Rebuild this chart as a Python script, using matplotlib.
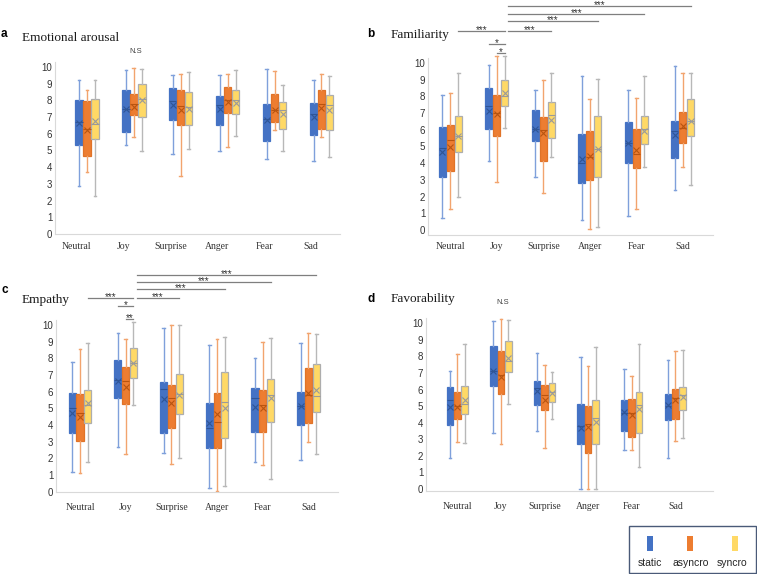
# ライブラリ読み込み.
import numpy as np
import matplotlib.pyplot as plt
from matplotlib.patches import Rectangle

# カテゴリ定義.
emotions = ["Neutral", "Joy", "Surprise", "Anger", "Fear", "Sad"]
groups = ["static", "asyncro", "syncro"]

# 各箱の値: (下ひげ, Q1, 中央値, Q3, 上ひげ, 平均).
arousal_static = [(2.9, 5.3, 6.7, 8.05, 9.2, 6.65), (5.3, 6.1, 7.5, 8.6, 9.8, 7.5),
                  (4.8, 6.8, 7.95, 8.75, 9.55, 7.75), (4.95, 6.5, 7.7, 8.25, 9.5, 7.5),
                  (4.5, 5.55, 6.9, 7.8, 9.9, 6.8), (4.4, 5.95, 7.2, 7.85, 9.25, 7.0)]
arousal_async = [(3.7, 4.7, 6.3, 7.95, 8.6, 6.2), (5.8, 7.15, 7.8, 8.4, 9.95, 7.6),
                 (3.45, 6.5, 7.65, 8.6, 9.6, 7.4), (5.2, 7.25, 8.05, 8.8, 9.6, 7.9),
                 (6.2, 6.7, 7.4, 8.4, 9.75, 7.4), (5.8, 6.3, 7.8, 8.6, 9.6, 7.55)]
arousal_sync = [(2.3, 5.7, 6.6, 8.1, 9.25, 6.75), (4.95, 7.0, 8.1, 9.0, 9.9, 8.0),
                (5.1, 6.5, 7.6, 8.5, 9.7, 7.5), (5.85, 7.2, 8.0, 8.6, 9.8, 7.85),
                (4.95, 6.3, 7.45, 7.9, 8.9, 7.2), (4.6, 6.25, 7.75, 8.35, 9.45, 7.4)]

familiar_static = [(0.7, 3.2, 4.9, 6.15, 8.1, 4.65), (4.15, 6.05, 7.4, 8.5, 9.9, 7.15),
                   (3.2, 5.3, 6.05, 7.2, 8.4, 6.05), (0.6, 2.8, 4.0, 5.75, 9.2, 4.25),
                   (0.85, 4.0, 5.2, 6.45, 8.4, 5.2), (2.4, 4.3, 5.9, 6.5, 9.8, 5.7)]
familiar_async = [(1.25, 3.55, 5.4, 6.3, 8.2, 5.0), (2.9, 5.65, 7.0, 8.1, 10.4, 6.95),
                  (2.2, 4.15, 6.0, 6.75, 9.0, 5.8), (0.05, 3.0, 4.4, 5.95, 7.85, 4.45),
                  (1.25, 3.7, 4.55, 6.05, 7.9, 4.8), (3.75, 5.2, 6.1, 7.05, 9.4, 6.2)]
familiar_sync = [(2.0, 4.65, 5.65, 6.8, 9.4, 5.6), (6.1, 7.45, 8.0, 9.0, 10.4, 8.2),
                 (4.4, 5.5, 6.9, 7.65, 9.4, 6.6), (0.2, 3.2, 4.85, 6.85, 9.05, 4.85),
                 (3.8, 5.15, 6.05, 6.8, 9.25, 5.95), (2.7, 5.65, 6.5, 7.85, 9.4, 6.5)]

empathy_static = [(1.2, 3.5, 5.05, 5.95, 7.8, 4.7), (2.7, 5.6, 6.7, 7.9, 9.55, 6.65),
                  (2.3, 3.5, 6.15, 6.6, 9.85, 5.55), (0.25, 2.6, 3.8, 5.3, 8.8, 4.1),
                  (1.8, 3.6, 5.6, 6.2, 8.05, 5.1), (1.9, 4.0, 5.15, 6.0, 8.95, 5.15)]
empathy_async = [(1.1, 3.05, 4.7, 5.85, 8.55, 4.5), (2.25, 5.25, 6.65, 7.5, 9.15, 6.3),
                 (1.65, 3.8, 5.6, 6.4, 10.0, 5.35), (0.05, 2.6, 4.2, 5.9, 9.15, 4.65),
                 (1.6, 3.6, 5.2, 6.1, 9.0, 5.0), (3.0, 4.15, 5.8, 7.45, 9.5, 5.95)]
empathy_sync = [(1.8, 4.15, 5.2, 6.1, 8.95, 5.3), (5.2, 6.8, 7.7, 8.6, 10.2, 7.7),
                (2.0, 4.65, 5.85, 7.05, 10.0, 5.8), (0.35, 3.25, 5.4, 7.2, 9.3, 5.05),
                (0.75, 4.2, 5.8, 6.75, 9.25, 5.6), (2.25, 4.8, 5.75, 7.65, 9.45, 6.1)]

favor_static = [(1.9, 3.85, 5.35, 6.15, 7.15, 4.95), (3.35, 6.2, 7.1, 8.6, 10.15, 7.15),
                (3.5, 5.05, 6.1, 6.5, 8.2, 5.9), (0.0, 2.7, 3.8, 5.1, 7.95, 3.7),
                (2.35, 3.5, 4.6, 5.4, 7.25, 4.65), (1.9, 4.15, 5.0, 5.75, 7.8, 5.05)]
favor_async = [(2.85, 4.25, 5.0, 5.85, 8.15, 4.95), (2.7, 5.75, 6.9, 8.3, 10.25, 6.75),
               (2.5, 4.75, 5.65, 6.3, 7.5, 5.4), (0.0, 2.15, 3.9, 5.0, 7.4, 3.75),
               (2.35, 3.15, 4.6, 5.45, 6.8, 4.45), (2.9, 4.25, 5.5, 6.05, 8.3, 5.35)]
favor_sync = [(2.75, 4.55, 5.1, 6.2, 8.75, 5.4), (5.1, 7.05, 7.7, 8.95, 10.2, 7.9),
              (4.25, 5.25, 5.85, 6.4, 7.05, 5.8), (0.0, 2.7, 4.3, 5.4, 8.55, 4.05),
              (1.3, 3.4, 5.05, 5.85, 8.75, 4.85), (3.05, 4.75, 5.65, 6.15, 8.4, 5.55)]

# 有意差の比較: (カテゴリ1, 群1, カテゴリ2, 群2, ラベル). 群 -1 は Joy syncro の右端から.
familiar_sig = [(1, -1, 5, 2, "***"), (1, -1, 4, 2, "***"), (1, -1, 3, 2, "***"),
                (1, -1, 2, 2, "***"), (0, 2, 1, 2, "***"), (1, 0, 1, 2, "*"), (1, 1, 1, 2, "*")]
empathy_sig = [(1, -1, 5, 2, "***"), (1, -1, 4, 2, "***"), (1, -1, 3, 2, "***"),
               (1, -1, 2, 2, "***"), (0, 2, 1, 2, "***"), (1, 0, 1, 2, "*"), (1, 1, 1, 2, "**")]

W, H = 757, 574
fig = plt.figure(figsize=(W / 100, H / 100), dpi=100)

face = ["#4472C4", "#ED7D31", "#FFD966"]
edge = ["#4472C4", "#E07328", "#ADADAD"]
whis = ["#7FA0DB", "#F2A46E", "#B8B8B8"]
medc = ["#2F5597", "#B85410", "#9A9A9A"]
serif = ["Liberation Serif", "DejaVu Serif"]
sans = ["Liberation Sans", "DejaVu Sans"]
step = 0.17
bw = 0.155


def fx(x):
    return x / W


def fy(y):
    return 1 - y / H


def panel(data, L, R, y0, sc, c0, sp, ymin, pad, loff):
    # ピクセル座標から軸を作成.
    top = 10.3
    bpx = y0 - ymin * sc
    tpx = y0 - top * sc
    ax = fig.add_axes([fx(L), fy(bpx), (R - L) / W, (bpx - tpx) / H])
    ax.set_xlim((L - c0) / sp, (R - c0) / sp)
    ax.set_ylim(ymin, top)
    for g in range(3):
        stats = []
        for lo, q1, med, q3, hi, mean in data[g]:
            stats.append(dict(whislo=lo, q1=q1, med=med, q3=q3, whishi=hi, mean=mean, fliers=[]))
        pos = np.arange(len(emotions)) + (g - 1) * step
        art = ax.bxp(stats, positions=pos, widths=bw, patch_artist=True, showmeans=True,
                     showfliers=False, capwidths=0.06, manage_ticks=False,
                     boxprops=dict(facecolor=face[g], edgecolor=edge[g], linewidth=0.9),
                     whiskerprops=dict(color=whis[g], linewidth=1.0),
                     capprops=dict(color=whis[g], linewidth=1.0),
                     medianprops=dict(color=medc[g], linewidth=0.8),
                     meanprops=dict(marker="x", markeredgecolor=medc[g], markersize=4,
                                    markeredgewidth=0.8))
        for k in art:
            for a in art[k]:
                a.set_clip_on(False)
    for s in ["top", "right"]:
        ax.spines[s].set_visible(False)
    for s in ["left", "bottom"]:
        ax.spines[s].set_color("#D9D9D9")
        ax.spines[s].set_linewidth(0.8)
    ax.set_yticks(range(11))
    ax.set_yticklabels([str(v) for v in range(11)], fontsize=7, family=sans, color="#333333")
    ax.set_xticks(np.arange(len(emotions)) + loff)
    ax.set_xticklabels(emotions, fontsize=7, family=serif, color="#333333")
    ax.tick_params(axis="both", length=0)
    ax.tick_params(axis="y", pad=2)
    ax.tick_params(axis="x", pad=pad)
    ax.patch.set_alpha(0)
    return ax


def sig(ax, comps, y0, sc, ys):
    # 有意差の線と記号.
    for (c1, g1, c2, g2, lab), ypx in zip(comps, ys):
        if g1 < 0:
            x1 = c1 + step + bw / 2
        else:
            x1 = c1 + (g1 - 1) * step
        x2 = c2 + (g2 - 1) * step
        yv = (y0 - ypx) / sc
        ax.plot([x1, x2], [yv, yv], color="#7F7F7F", lw=0.9, clip_on=False)
        ax.text((x1 + x2) / 2, (y0 - ypx + 1.0) / sc, lab, ha="center", va="center",
                fontsize=7, family=sans, color="#333333", clip_on=False)


# 各パネル.
axa = panel([arousal_static, arousal_async, arousal_sync], 55, 340, 234, 16.7, 87, 46.9, 0, 6, -0.22)
axb = panel([familiar_static, familiar_async, familiar_sync], 428, 713, 230, 16.7, 450.3, 46.5, -0.3, 5, 0)
axc = panel([empathy_static, empathy_async, empathy_sync], 56, 338, 491.7, 16.67, 80, 45.7, 0, 8, 0)
axd = panel([favor_static, favor_async, favor_sync], 426, 712.7, 489, 16.57, 457.3, 43.6, -0.1, 8, 0)

sig(axb, familiar_sig, 230, 16.7, [6, 14, 21, 31, 31, 44, 53])
sig(axc, empathy_sig, 491.7, 16.67, [275, 282, 289, 298, 298, 306, 319])

# タイトルと記号.
for lab, x, y in [("a", 1, 37), ("b", 367, 37), ("c", 2, 293), ("d", 368, 302)]:
    fig.text(fx(x), fy(y), lab, fontsize=8.5, fontweight="bold", family=sans, va="baseline")
for t, x, y in [("Emotional arousal", 22, 41), ("Familiarity", 391, 38),
                ("Empathy", 22, 303), ("Favorability", 391, 302)]:
    fig.text(fx(x), fy(y), t, fontsize=9.5, family=serif, va="baseline", color="#1A1A1A")
fig.text(fx(136), fy(53), "N.S", fontsize=5.5, family=sans, ha="center", va="baseline", color="#404040")
fig.text(fx(503), fy(304), "N.S", fontsize=5.5, family=sans, ha="center", va="baseline", color="#404040")

# 凡例.
fig.patches.append(Rectangle((fx(629), fy(573)), (756 - 629) / W, (573 - 526) / H,
                             transform=fig.transFigure, facecolor="white",
                             edgecolor="#4A5A78", lw=1))
for g, (xp, xt) in enumerate([(647, 650), (687, 691), (732, 732)]):
    fig.patches.append(Rectangle((fx(xp), fy(551)), 6 / W, 15 / H, transform=fig.transFigure,
                                 facecolor=face[g], edgecolor="none"))
    fig.text(fx(xt), fy(563), groups[g], fontsize=7.5, family=sans, ha="center", va="center",
             color="#262626")

plt.savefig("out.png", dpi=100)
